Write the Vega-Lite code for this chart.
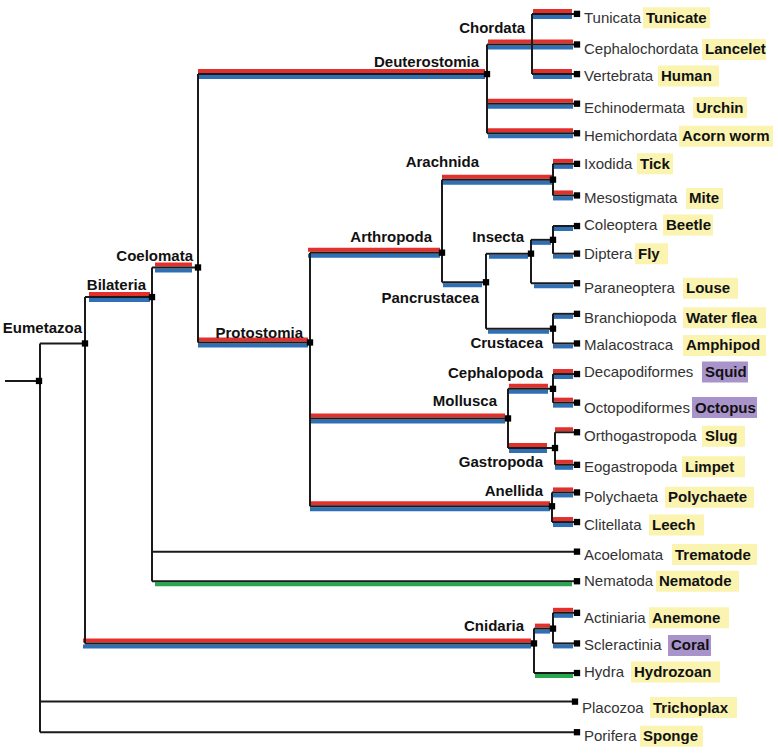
{
  "$schema": "https://vega.github.io/schema/vega-lite/v6.json",
  "width": 778,
  "height": 753,
  "padding": 0,
  "autosize": {"type": "none"},
  "background": "white",
  "config": {"view": {"stroke": null}, "font": "Liberation Sans"},
  "datasets": {
    "segs": [
      {"x": 5, "x2": 39, "y": 381, "y2": 381},
      {"x": 40, "x2": 85, "y": 343, "y2": 343},
      {"x": 40, "x2": 575, "y": 706, "y2": 706},
      {"x": 40, "x2": 577, "y": 737, "y2": 737},
      {"x": 85, "x2": 152, "y": 296, "y2": 296},
      {"x": 85, "x2": 534, "y": 647, "y2": 647},
      {"x": 152, "x2": 198, "y": 266, "y2": 266},
      {"x": 152, "x2": 577, "y": 554, "y2": 554},
      {"x": 152, "x2": 577, "y": 584, "y2": 584},
      {"x": 198, "x2": 487, "y": 70, "y2": 70},
      {"x": 198, "x2": 310, "y": 342, "y2": 342},
      {"x": 487, "x2": 577, "y": 40, "y2": 40},
      {"x": 532, "x2": 577, "y": 9, "y2": 9},
      {"x": 532, "x2": 577, "y": 70, "y2": 70},
      {"x": 487, "x2": 577, "y": 100, "y2": 100},
      {"x": 487, "x2": 577, "y": 130, "y2": 130},
      {"x": 310, "x2": 442, "y": 251, "y2": 251},
      {"x": 310, "x2": 508, "y": 419, "y2": 419},
      {"x": 310, "x2": 552, "y": 508, "y2": 508},
      {"x": 442, "x2": 553, "y": 177, "y2": 177},
      {"x": 553, "x2": 577, "y": 161, "y2": 161},
      {"x": 553, "x2": 577, "y": 193, "y2": 193},
      {"x": 442, "x2": 486, "y": 281, "y2": 281},
      {"x": 486, "x2": 531, "y": 252, "y2": 252},
      {"x": 531, "x2": 553, "y": 238, "y2": 238},
      {"x": 553, "x2": 577, "y": 224, "y2": 224},
      {"x": 553, "x2": 577, "y": 252, "y2": 252},
      {"x": 531, "x2": 577, "y": 282, "y2": 282},
      {"x": 486, "x2": 553, "y": 328, "y2": 328},
      {"x": 553, "x2": 577, "y": 313, "y2": 313},
      {"x": 553, "x2": 577, "y": 343, "y2": 343},
      {"x": 508, "x2": 553, "y": 389, "y2": 389},
      {"x": 553, "x2": 577, "y": 374, "y2": 374},
      {"x": 553, "x2": 577, "y": 403, "y2": 403},
      {"x": 508, "x2": 555, "y": 449, "y2": 449},
      {"x": 555, "x2": 577, "y": 433, "y2": 433},
      {"x": 555, "x2": 577, "y": 466, "y2": 466},
      {"x": 552, "x2": 577, "y": 494, "y2": 494},
      {"x": 552, "x2": 577, "y": 524, "y2": 524},
      {"x": 534, "x2": 553, "y": 632, "y2": 632},
      {"x": 553, "x2": 577, "y": 616, "y2": 616},
      {"x": 553, "x2": 577, "y": 647, "y2": 647},
      {"x": 534, "x2": 577, "y": 677, "y2": 677},
      {"x": 40, "x2": 40, "y": 343, "y2": 737},
      {"x": 85, "x2": 85, "y": 296, "y2": 647},
      {"x": 152, "x2": 152, "y": 266, "y2": 584},
      {"x": 198, "x2": 198, "y": 70, "y2": 342},
      {"x": 487, "x2": 487, "y": 40, "y2": 130},
      {"x": 532, "x2": 532, "y": 9, "y2": 70},
      {"x": 310, "x2": 310, "y": 251, "y2": 508},
      {"x": 442, "x2": 442, "y": 177, "y2": 281},
      {"x": 553, "x2": 553, "y": 161, "y2": 193},
      {"x": 486, "x2": 486, "y": 252, "y2": 328},
      {"x": 531, "x2": 531, "y": 238, "y2": 282},
      {"x": 553, "x2": 553, "y": 224, "y2": 252},
      {"x": 553, "x2": 553, "y": 313, "y2": 343},
      {"x": 508, "x2": 508, "y": 389, "y2": 449},
      {"x": 553, "x2": 553, "y": 374, "y2": 403},
      {"x": 555, "x2": 555, "y": 433, "y2": 466},
      {"x": 552, "x2": 552, "y": 494, "y2": 524},
      {"x": 534, "x2": 534, "y": 632, "y2": 677},
      {"x": 553, "x2": 553, "y": 616, "y2": 647}
    ],
    "bars": [
      {"b": "Bilateria", "x": 89, "x2": 150, "y": 296, "upper": true, "lower": "blue"},
      {"b": "Coelomata", "x": 155, "x2": 192, "y": 266, "upper": true, "lower": "blue"},
      {"b": "Deuterostomia", "x": 198, "x2": 485, "y": 70, "upper": true, "lower": "blue"},
      {"b": "Cephalochordata", "x": 488, "x2": 573, "y": 40, "upper": true, "lower": "blue"},
      {"b": "Tunicata", "x": 533, "x2": 572, "y": 9, "upper": true, "lower": "blue"},
      {"b": "Vertebrata", "x": 533, "x2": 572, "y": 70, "upper": true, "lower": "blue"},
      {"b": "Echinodermata", "x": 488, "x2": 573, "y": 100, "upper": true, "lower": "blue"},
      {"b": "Hemichordata", "x": 488, "x2": 573, "y": 130, "upper": true, "lower": "blue"},
      {"b": "Protostomia", "x": 198, "x2": 308, "y": 342, "upper": true, "lower": "blue"},
      {"b": "Arthropoda", "x": 308, "x2": 440, "y": 251, "upper": true, "lower": "blue"},
      {"b": "Arachnida", "x": 442, "x2": 552, "y": 177, "upper": true, "lower": "blue"},
      {"b": "Ixodida", "x": 553, "x2": 573, "y": 161, "upper": true, "lower": "blue"},
      {"b": "Mesostigmata", "x": 553, "x2": 573, "y": 193, "upper": true, "lower": "blue"},
      {"b": "Mollusca", "x": 310, "x2": 505, "y": 419, "upper": true, "lower": "blue"},
      {"b": "Cephalopoda", "x": 509, "x2": 548, "y": 389, "upper": true, "lower": "blue"},
      {"b": "Decapodiformes", "x": 553, "x2": 573, "y": 374, "upper": true, "lower": "blue"},
      {"b": "Octopodiformes", "x": 553, "x2": 573, "y": 403, "upper": true, "lower": "blue"},
      {"b": "Gastropoda", "x": 509, "x2": 547, "y": 449, "upper": true, "lower": "blue"},
      {"b": "Eogastropoda", "x": 555, "x2": 573, "y": 466, "upper": true, "lower": "blue"},
      {"b": "Anellida", "x": 310, "x2": 550, "y": 508, "upper": true, "lower": "blue"},
      {"b": "Polychaeta", "x": 553, "x2": 573, "y": 494, "upper": true, "lower": "blue"},
      {"b": "Clitellata", "x": 553, "x2": 573, "y": 524, "upper": true, "lower": "blue"},
      {"b": "Cnidaria", "x": 83, "x2": 531, "y": 647, "upper": true, "lower": "blue"},
      {"b": "Anthozoa", "x": 535, "x2": 550, "y": 632, "upper": true, "lower": "blue"},
      {"b": "Actiniaria", "x": 553, "x2": 573, "y": 616, "upper": true, "lower": "blue"},
      {"b": "Orthogastropoda", "x": 555, "x2": 573, "y": 433, "upper": true, "lower": "none"},
      {"b": "Pancrustacea", "x": 443, "x2": 482, "y": 281, "upper": false, "lower": "blue"},
      {"b": "Insecta", "x": 489, "x2": 528, "y": 252, "upper": false, "lower": "blue"},
      {"b": "Coleoptera+Diptera", "x": 532, "x2": 551, "y": 238, "upper": false, "lower": "blue"},
      {"b": "Coleoptera", "x": 553, "x2": 573, "y": 224, "upper": false, "lower": "blue"},
      {"b": "Diptera", "x": 553, "x2": 573, "y": 252, "upper": false, "lower": "blue"},
      {"b": "Paraneoptera", "x": 534, "x2": 573, "y": 282, "upper": false, "lower": "blue"},
      {"b": "Crustacea", "x": 488, "x2": 549, "y": 328, "upper": false, "lower": "blue"},
      {"b": "Branchiopoda", "x": 553, "x2": 573, "y": 313, "upper": false, "lower": "blue"},
      {"b": "Malacostraca", "x": 553, "x2": 573, "y": 343, "upper": false, "lower": "blue"},
      {"b": "Scleractinia", "x": 553, "x2": 573, "y": 647, "upper": false, "lower": "blue"},
      {"b": "Nematoda", "x": 155, "x2": 572, "y": 584, "upper": false, "lower": "green"},
      {"b": "Hydra", "x": 535, "x2": 573, "y": 677, "upper": false, "lower": "green"}
    ],
    "nodes": [
      {"x": 39, "y": 381}, {"x": 85, "y": 343}, {"x": 152, "y": 296}, {"x": 198, "y": 266},
      {"x": 487, "y": 70}, {"x": 310, "y": 342}, {"x": 442, "y": 251}, {"x": 553, "y": 177},
      {"x": 486, "y": 281}, {"x": 531, "y": 252}, {"x": 553, "y": 238}, {"x": 553, "y": 328},
      {"x": 508, "y": 419}, {"x": 553, "y": 389}, {"x": 555, "y": 449}, {"x": 552, "y": 508},
      {"x": 534, "y": 647}, {"x": 553, "y": 632}
    ],
    "leaves": [
      {"name": "Tunicata", "x": 577, "y": 9, "ly": 13, "common": "Tunicate", "bx": 643, "bx2": 710, "hl": "yellow"},
      {"name": "Cephalochordata", "x": 577, "y": 40, "ly": 45, "common": "Lancelet", "bx": 702, "bx2": 766, "hl": "yellow"},
      {"name": "Vertebrata", "x": 577, "y": 70, "ly": 72, "common": "Human", "bx": 658, "bx2": 719, "hl": "yellow"},
      {"name": "Echinodermata", "x": 577, "y": 100, "ly": 104, "common": "Urchin", "bx": 693, "bx2": 747, "hl": "yellow"},
      {"name": "Hemichordata", "x": 577, "y": 130, "ly": 133, "common": "Acorn worm", "bx": 679, "bx2": 773, "hl": "yellow"},
      {"name": "Ixodida", "x": 577, "y": 161, "ly": 161, "common": "Tick", "bx": 637, "bx2": 673, "hl": "yellow"},
      {"name": "Mesostigmata", "x": 577, "y": 193, "ly": 196, "common": "Mite", "bx": 686, "bx2": 723, "hl": "yellow"},
      {"name": "Coleoptera", "x": 577, "y": 224, "ly": 223, "common": "Beetle", "bx": 663, "bx2": 713, "hl": "yellow"},
      {"name": "Diptera", "x": 577, "y": 252, "ly": 252, "common": "Fly", "bx": 635, "bx2": 668, "hl": "yellow"},
      {"name": "Paraneoptera", "x": 577, "y": 282, "ly": 287, "common": "Louse", "bx": 683, "bx2": 738, "hl": "yellow"},
      {"name": "Branchiopoda", "x": 577, "y": 313, "ly": 317, "common": "Water flea", "bx": 683, "bx2": 766, "hl": "yellow"},
      {"name": "Malacostraca", "x": 577, "y": 343, "ly": 345, "common": "Amphipod", "bx": 683, "bx2": 766, "hl": "yellow"},
      {"name": "Decapodiformes", "x": 577, "y": 374, "ly": 372, "common": "Squid", "bx": 702, "bx2": 748, "hl": "purple"},
      {"name": "Octopodiformes", "x": 577, "y": 403, "ly": 408, "common": "Octopus", "bx": 692, "bx2": 757, "hl": "purple"},
      {"name": "Orthogastropoda", "x": 577, "y": 433, "ly": 437, "common": "Slug", "bx": 702, "bx2": 745, "hl": "yellow"},
      {"name": "Eogastropoda", "x": 577, "y": 466, "ly": 468, "common": "Limpet", "bx": 682, "bx2": 745, "hl": "yellow"},
      {"name": "Polychaeta", "x": 577, "y": 494, "ly": 499, "common": "Polychaete", "bx": 665, "bx2": 754, "hl": "yellow"},
      {"name": "Clitellata", "x": 577, "y": 524, "ly": 527, "common": "Leech", "bx": 649, "bx2": 704, "hl": "yellow"},
      {"name": "Acoelomata", "x": 577, "y": 554, "ly": 557, "common": "Trematode", "bx": 672, "bx2": 757, "hl": "yellow"},
      {"name": "Nematoda", "x": 577, "y": 584, "ly": 584, "common": "Nematode", "bx": 656, "bx2": 739, "hl": "yellow"},
      {"name": "Actiniaria", "x": 577, "y": 616, "ly": 621, "common": "Anemone", "bx": 649, "bx2": 729, "hl": "yellow"},
      {"name": "Scleractinia", "x": 577, "y": 647, "ly": 649, "common": "Coral", "bx": 668, "bx2": 711, "hl": "purple"},
      {"name": "Hydra", "x": 577, "y": 677, "ly": 676, "common": "Hydrozoan", "bx": 631, "bx2": 720, "hl": "yellow"},
      {"name": "Placozoa", "x": 575, "y": 706, "ly": 712, "common": "Trichoplax", "bx": 650, "bx2": 737, "hl": "yellow"},
      {"name": "Porifera", "x": 577, "y": 737, "ly": 741, "common": "Sponge", "bx": 640, "bx2": 703, "hl": "yellow"}
    ],
    "clades": [
      {"label": "Eumetazoa", "x": 82, "y": 327},
      {"label": "Bilateria", "x": 146, "y": 284},
      {"label": "Coelomata", "x": 193, "y": 254},
      {"label": "Deuterostomia", "x": 479, "y": 58},
      {"label": "Chordata", "x": 525, "y": 23},
      {"label": "Arachnida", "x": 479, "y": 159},
      {"label": "Arthropoda", "x": 432, "y": 235},
      {"label": "Insecta", "x": 524, "y": 235},
      {"label": "Pancrustacea", "x": 479, "y": 297},
      {"label": "Crustacea", "x": 543, "y": 343},
      {"label": "Protostomia", "x": 303, "y": 332},
      {"label": "Cephalopoda", "x": 543, "y": 373},
      {"label": "Mollusca", "x": 497, "y": 401},
      {"label": "Gastropoda", "x": 543, "y": 463},
      {"label": "Anellida", "x": 543, "y": 493},
      {"label": "Cnidaria", "x": 524, "y": 629}
    ]
  },
  "layer": [
    {
      "data": {"name": "bars"},
      "transform": [{"filter": "datum.upper"}],
      "mark": {"type": "rule", "strokeWidth": 4, "yOffset": -3, "stroke": "#e3302d"},
      "encoding": {
        "x": {"field": "x", "type": "quantitative", "scale": {"domain": [0, 778], "nice": false, "zero": false}, "axis": null},
        "x2": {"field": "x2"},
        "y": {"field": "y", "type": "quantitative", "scale": {"domain": [0, 753], "nice": false, "zero": false, "reverse": true}, "axis": null}
      }
    },
    {
      "data": {"name": "bars"},
      "transform": [{"filter": "datum.lower != 'none'"}],
      "mark": {"type": "rule", "strokeWidth": 4, "yOffset": 3},
      "encoding": {
        "x": {"field": "x", "type": "quantitative", "axis": null},
        "x2": {"field": "x2"},
        "y": {"field": "y", "type": "quantitative", "axis": null},
        "stroke": {"field": "lower", "type": "nominal", "scale": {"domain": ["blue", "green"], "range": ["#2e6fb6", "#25a94c"]}, "legend": null}
      }
    },
    {
      "data": {"name": "segs"},
      "mark": {"type": "rule", "strokeWidth": 2, "stroke": "#1a1a1a"},
      "encoding": {
        "x": {"field": "x", "type": "quantitative", "axis": null},
        "x2": {"field": "x2"},
        "y": {"field": "y", "type": "quantitative", "axis": null},
        "y2": {"field": "y2"}
      }
    },
    {
      "data": {"name": "nodes"},
      "mark": {"type": "square", "size": 40, "filled": true, "color": "#000", "opacity": 1},
      "encoding": {
        "x": {"field": "x", "type": "quantitative", "axis": null},
        "y": {"field": "y", "type": "quantitative", "axis": null}
      }
    },
    {
      "data": {"name": "leaves"},
      "mark": {"type": "square", "size": 40, "filled": true, "color": "#000", "opacity": 1},
      "encoding": {
        "x": {"field": "x", "type": "quantitative", "axis": null},
        "y": {"field": "y", "type": "quantitative", "axis": null}
      }
    },
    {
      "data": {"name": "leaves"},
      "mark": {"type": "bar", "size": 21},
      "encoding": {
        "x": {"field": "bx", "type": "quantitative", "axis": null},
        "x2": {"field": "bx2"},
        "y": {"field": "ly", "type": "quantitative", "axis": null},
        "color": {"field": "hl", "type": "nominal", "scale": {"domain": ["yellow", "purple"], "range": ["#faf4b0", "#a993cb"]}, "legend": null}
      }
    },
    {
      "data": {"name": "leaves"},
      "mark": {"type": "text", "align": "left", "baseline": "middle", "dx": 7, "fontSize": 15, "font": "Liberation Sans", "fill": "#333333"},
      "encoding": {
        "x": {"field": "x", "type": "quantitative", "axis": null},
        "y": {"field": "ly", "type": "quantitative", "axis": null},
        "text": {"field": "name"}
      }
    },
    {
      "data": {"name": "leaves"},
      "mark": {"type": "text", "align": "left", "baseline": "middle", "dx": 3, "fontSize": 15, "fontWeight": "bold", "font": "Liberation Sans", "fill": "#111111"},
      "encoding": {
        "x": {"field": "bx", "type": "quantitative", "axis": null},
        "y": {"field": "ly", "type": "quantitative", "axis": null},
        "text": {"field": "common"}
      }
    },
    {
      "data": {"name": "clades"},
      "mark": {"type": "text", "align": "right", "baseline": "middle", "fontSize": 15, "fontWeight": "bold", "font": "Liberation Sans", "fill": "#111111"},
      "encoding": {
        "x": {"field": "x", "type": "quantitative", "axis": null},
        "y": {"field": "y", "type": "quantitative", "axis": null},
        "text": {"field": "label"}
      }
    }
  ]
}
